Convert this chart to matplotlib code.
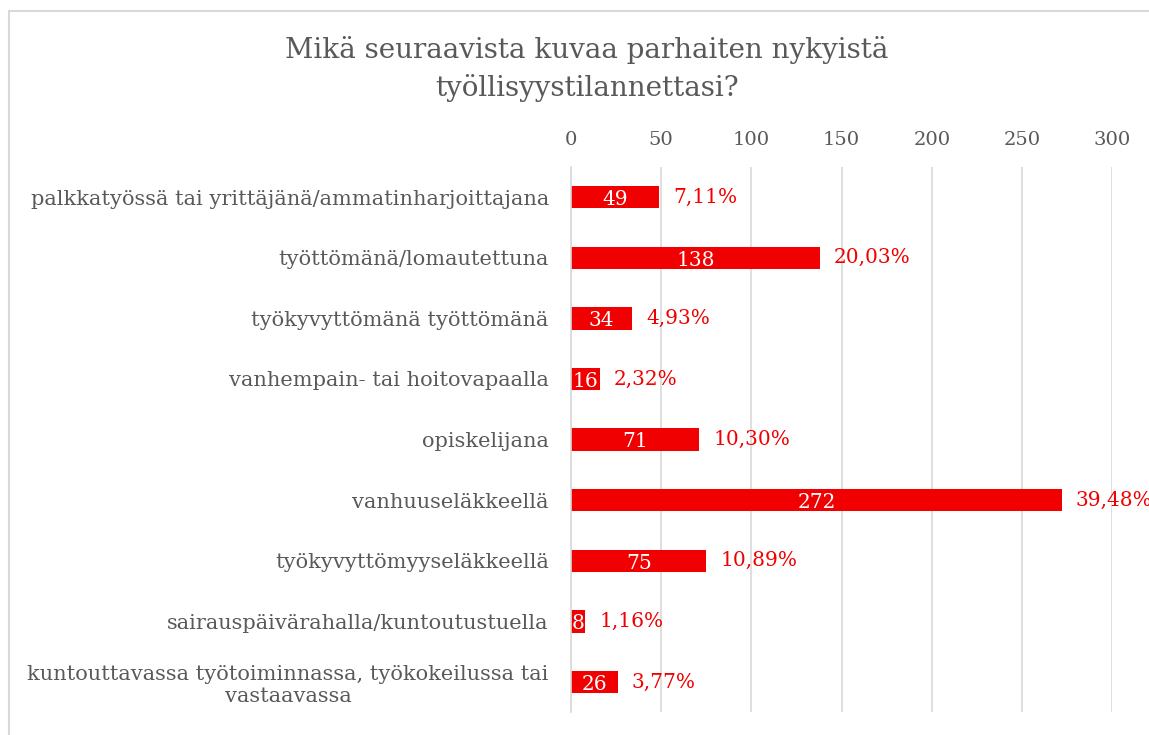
import matplotlib.pyplot as plt
from matplotlib.patches import Rectangle

# survey answers, top to bottom as shown
categories = [
    "palkkatyössä tai yrittäjänä/ammatinharjoittajana",
    "työttömänä/lomautettuna",
    "työkyvyttömänä työttömänä",
    "vanhempain- tai hoitovapaalla",
    "opiskelijana",
    "vanhuuseläkkeellä",
    "työkyvyttömyyseläkkeellä",
    "sairauspäivärahalla/kuntoutustuella",
    "kuntouttavassa työtoiminnassa, työkokeilussa tai\nvastaavassa",
]
counts = [49, 138, 34, 16, 71, 272, 75, 8, 26]
percent_labels = ["7,11%", "20,03%", "4,93%", "2,32%", "10,30%",
                  "39,48%", "10,89%", "1,16%", "3,77%"]
x_ticks = [0, 50, 100, 150, 200, 250, 300]

RED = "#F00000"
GREY = "#595959"
plt.rcParams["font.family"] = ["DejaVu Serif"]

fig = plt.figure(figsize=(11.49, 7.35), dpi=100)
ax = fig.add_axes([0.497, 0.031, 0.471, 0.742])

y = list(range(len(categories)))
bars = ax.barh(y, counts, height=0.37, color=RED)
ax.set_ylim(len(categories) - 0.5, -0.5)
ax.set_xlim(0, 300)

for i, b in enumerate(bars):
    w = b.get_width()
    ax.text(w / 2, i + 0.04, str(counts[i]), color="white", fontsize=14.5,
            ha="center", va="center")
    ax.annotate(percent_labels[i], (w, i), xytext=(10, 0),
                textcoords="offset points", color=RED, fontsize=14.5,
                ha="left", va="center", annotation_clip=False)

ax.xaxis.tick_top()
ax.set_xticks(x_ticks)
ax.tick_params(axis="x", length=0, pad=13, labelsize=14, labelcolor=GREY)
ax.set_yticks(y)
ax.set_yticklabels(categories, fontsize=15, color=GREY)
ax.tick_params(axis="y", length=0, pad=16)
for lab in ax.get_yticklabels():
    lab.set_multialignment("center")
    lab.set_linespacing(1.2)

ax.grid(axis="x", color="#d9d9d9", linewidth=1.2)
ax.set_axisbelow(True)
for s in ["top", "right", "bottom"]:
    ax.spines[s].set_visible(False)
ax.spines["left"].set_color("#d9d9d9")
ax.spines["left"].set_linewidth(1.2)

fig.text(0.511, 0.906, "Mikä seuraavista kuvaa parhaiten nykyistä\ntyöllisyystilannettasi?",
         ha="center", va="center", fontsize=20, color=GREY, linespacing=1.45)

# chart frame, cut off at right and bottom like the screenshot
fig.patches.append(Rectangle((0.0078, -0.1), 1.2, 1.085, transform=fig.transFigure,
                             fill=False, edgecolor="#d9d9d9", linewidth=1.5))

fig.savefig("out.png", dpi=100)
